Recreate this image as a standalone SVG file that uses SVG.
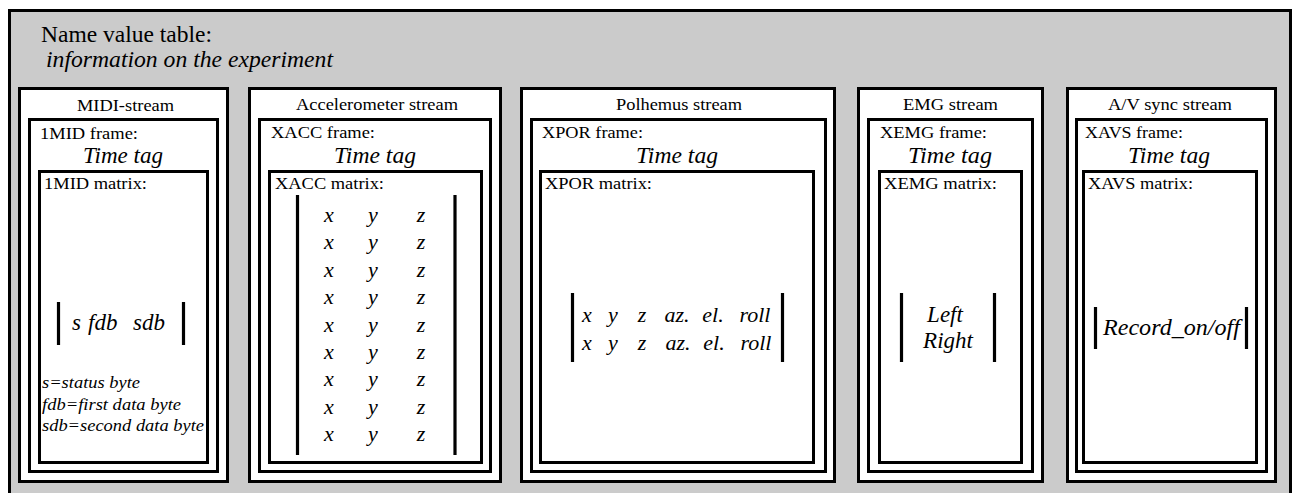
<svg xmlns="http://www.w3.org/2000/svg" width="1292" height="493" viewBox="0 0 1292 493">
<style>
.box{fill:#fff;stroke:#000;stroke-width:3}
.bg{fill:#cbcbcb;stroke:#000;stroke-width:3}
.bar{stroke:#000;stroke-width:3.2;fill:none}
text{font-family:"Liberation Serif","Times New Roman",serif;fill:#000}
.t{font-size:17.5px}
.h{font-size:23px}
.i{font-style:italic;font-size:23px}
.il{font-style:italic;font-size:17.5px}
.m{font-style:italic;font-size:22px;text-anchor:middle}
.c{text-anchor:middle}
</style>
<g id="table">
<rect class="bg" x="9.5" y="10.5" width="1281" height="500"/>
<text class="h" x="41" y="42" textLength="171" lengthAdjust="spacingAndGlyphs">Name value table:</text>
<text class="i" x="46" y="67" textLength="287" lengthAdjust="spacingAndGlyphs">information on the experiment</text>
</g>
<g id="midi">
<rect class="box" x="19.5" y="88.5" width="208" height="393"/>
<rect class="box" x="29.5" y="119.5" width="188" height="352"/>
<rect class="box" x="39.5" y="171.5" width="168" height="291"/>
<text class="t c" x="125.5" y="111" textLength="97" lengthAdjust="spacingAndGlyphs">MIDI-stream</text>
<text class="t" x="40" y="139" textLength="98" lengthAdjust="spacingAndGlyphs">1MID frame:</text>
<text class="i c" x="123" y="163" textLength="80" lengthAdjust="spacingAndGlyphs">Time tag</text>
<text class="t" x="44" y="189" textLength="103" lengthAdjust="spacingAndGlyphs">1MID matrix:</text>
<line class="bar" x1="58.5" y1="302" x2="58.5" y2="345"/>
<line class="bar" x1="183.5" y1="302" x2="183.5" y2="345"/>
<text class="i" x="72" y="330">s<tspan x="88">fdb</tspan><tspan x="133">sdb</tspan></text>
<text class="il" x="42" y="388" textLength="98" lengthAdjust="spacingAndGlyphs">s=status byte</text>
<text class="il" x="42" y="410" textLength="139" lengthAdjust="spacingAndGlyphs">fdb=first data byte</text>
<text class="il" x="42" y="431" textLength="162" lengthAdjust="spacingAndGlyphs">sdb=second data byte</text>
</g>
<g id="accelerometer">
<rect class="box" x="249.5" y="88.5" width="251" height="393"/>
<rect class="box" x="259.5" y="119.5" width="231" height="352"/>
<rect class="box" x="269.5" y="171.5" width="212" height="291"/>
<text class="t c" x="377" y="110" textLength="162" lengthAdjust="spacingAndGlyphs">Accelerometer stream</text>
<text class="t" x="271" y="138" textLength="104" lengthAdjust="spacingAndGlyphs">XACC frame:</text>
<text class="i c" x="375" y="163" textLength="82" lengthAdjust="spacingAndGlyphs">Time tag</text>
<text class="t" x="275" y="189" textLength="109" lengthAdjust="spacingAndGlyphs">XACC matrix:</text>
<line class="bar" x1="297.5" y1="195" x2="297.5" y2="455"/>
<line class="bar" x1="455" y1="195" x2="455" y2="455"/>
<text class="m" x="329" y="222">x</text><text class="m" x="373" y="222">y</text><text class="m" x="421" y="222">z</text>
<text class="m" x="329" y="249.4">x</text><text class="m" x="373" y="249.4">y</text><text class="m" x="421" y="249.4">z</text>
<text class="m" x="329" y="276.8">x</text><text class="m" x="373" y="276.8">y</text><text class="m" x="421" y="276.8">z</text>
<text class="m" x="329" y="304.2">x</text><text class="m" x="373" y="304.2">y</text><text class="m" x="421" y="304.2">z</text>
<text class="m" x="329" y="331.6">x</text><text class="m" x="373" y="331.6">y</text><text class="m" x="421" y="331.6">z</text>
<text class="m" x="329" y="359">x</text><text class="m" x="373" y="359">y</text><text class="m" x="421" y="359">z</text>
<text class="m" x="329" y="386.4">x</text><text class="m" x="373" y="386.4">y</text><text class="m" x="421" y="386.4">z</text>
<text class="m" x="329" y="413.8">x</text><text class="m" x="373" y="413.8">y</text><text class="m" x="421" y="413.8">z</text>
<text class="m" x="329" y="441.2">x</text><text class="m" x="373" y="441.2">y</text><text class="m" x="421" y="441.2">z</text>
</g>
<g id="polhemus">
<rect class="box" x="521.5" y="88.5" width="313" height="393"/>
<rect class="box" x="531.5" y="119.5" width="294" height="352"/>
<rect class="box" x="540.5" y="171.5" width="273" height="291"/>
<text class="t c" x="679" y="110" textLength="126" lengthAdjust="spacingAndGlyphs">Polhemus stream</text>
<text class="t" x="542" y="138" textLength="101" lengthAdjust="spacingAndGlyphs">XPOR frame:</text>
<text class="i c" x="677" y="163" textLength="82" lengthAdjust="spacingAndGlyphs">Time tag</text>
<text class="t" x="545" y="189" textLength="107" lengthAdjust="spacingAndGlyphs">XPOR matrix:</text>
<line class="bar" x1="572.5" y1="293" x2="572.5" y2="362"/>
<line class="bar" x1="782.5" y1="293" x2="782.5" y2="362"/>
<text class="m" x="587" y="322">x</text><text class="m" x="613" y="322">y</text><text class="m" x="642" y="322">z</text><text class="m" x="677" y="322">az.</text><text class="m" x="713" y="322">el.</text><text class="m" x="755" y="322">roll</text>
<text class="m" x="587" y="350">x</text><text class="m" x="613" y="350">y</text><text class="m" x="642" y="350">z</text><text class="m" x="678" y="350">az.</text><text class="m" x="714" y="350">el.</text><text class="m" x="756" y="350">roll</text>
</g>
<g id="emg">
<rect class="box" x="858.5" y="88.5" width="184" height="393"/>
<rect class="box" x="868.5" y="119.5" width="164" height="352"/>
<rect class="box" x="879.5" y="171.5" width="142" height="291"/>
<text class="t c" x="950.5" y="110" textLength="95" lengthAdjust="spacingAndGlyphs">EMG stream</text>
<text class="t" x="880" y="138" textLength="107" lengthAdjust="spacingAndGlyphs">XEMG frame:</text>
<text class="i c" x="950" y="163" textLength="84" lengthAdjust="spacingAndGlyphs">Time tag</text>
<text class="t" x="884" y="189" textLength="113" lengthAdjust="spacingAndGlyphs">XEMG matrix:</text>
<line class="bar" x1="901.5" y1="293" x2="901.5" y2="362"/>
<line class="bar" x1="994.5" y1="293" x2="994.5" y2="362"/>
<text class="i c" x="945" y="322">Left</text>
<text class="i c" x="948" y="348">Right</text>
</g>
<g id="av-sync">
<rect class="box" x="1067.5" y="88.5" width="208" height="393"/>
<rect class="box" x="1076.5" y="119.5" width="190" height="352"/>
<rect class="box" x="1083.5" y="171.5" width="173" height="291"/>
<text class="t c" x="1170" y="110" textLength="124" lengthAdjust="spacingAndGlyphs">A/V sync stream</text>
<text class="t" x="1085" y="138" textLength="98" lengthAdjust="spacingAndGlyphs">XAVS frame:</text>
<text class="i c" x="1169" y="163" textLength="82" lengthAdjust="spacingAndGlyphs">Time tag</text>
<text class="t" x="1088" y="189" textLength="105" lengthAdjust="spacingAndGlyphs">XAVS matrix:</text>
<line class="bar" x1="1095.5" y1="307" x2="1095.5" y2="349"/>
<line class="bar" x1="1246.5" y1="307" x2="1246.5" y2="349"/>
<text class="i" x="1103" y="335" textLength="137" lengthAdjust="spacingAndGlyphs">Record_on/off</text>
</g>
</svg>
